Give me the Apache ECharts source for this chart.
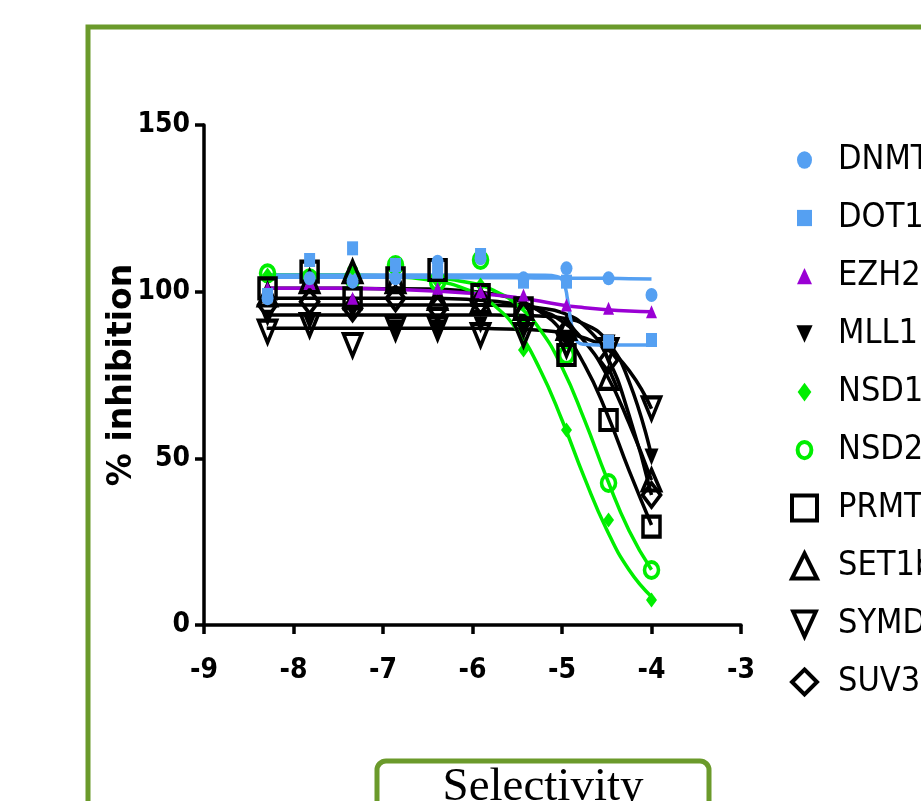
<!DOCTYPE html>
<html>
<head>
<meta charset="utf-8">
<script src="https://cdn.jsdelivr.net/npm/echarts@6/dist/echarts.min.js"></script>
<style>
html,body{margin:0;padding:0;background:#fff;}
#c{width:921px;height:801px;}
</style>
</head>
<body>
<div id="c"></div>
<script>
// ---- data ----
var logConc = [-8.29, -7.82, -7.34, -6.86, -6.39, -5.91, -5.43, -4.95, -4.48, -4.0];
var names = ['DNMT1', 'DOT1L', 'EZH2', 'MLL1', 'NSD1', 'NSD2', 'PRMT8', 'SET1b', 'SYMD2', 'SUV39H1'];
var xTicks = [-9, -8, -7, -6, -5, -4, -3];
var yTicks = [0, 50, 100, 150];

var ptDNMT1 = [98, 104, 103, 104, 109, 110, 104, 107, 104, 99];
var ptDOT1L = [99, 109.5, 113, 108, 106, 111, 103, 103, 85, 85.5];
var ptEZH2  = [101, 103, 98, 108.5, 101, 100, 99, 96, 95, 94];
var ptMLL1  = [92, 91, 94, 89, 89, 90, 88, 86, 84.6, 50.4];
var ptNSD1  = [105, 104, 107, 106, 103, 102, 82.5, 58.5, 31.5, 7.5];
var ptNSD2  = [105.5, 104, 104, 108, 103, 109.5, 93, 81, 42.6, 16.5];
var ptPRMT8 = [101, 106, 98, 104, 106.5, 99, 95, 81, 61.5, 29.5];
var ptSET1b = [99, 103, 106, 103, 98, 97, 95, 89, 74, 43.5];
var ptSYMD2 = [88, 90, 84, 89, 89, 87, 87, 84, 82.5, 65];
var ptSUV39 = [96, 97, 95, 98, 95, 97, 93, 88, 79.5, 39];

// fitted curves at these x positions
var curveX    = [-8.3, -7.5, -7, -6.5, -6, -5.75, -5.5, -5.25, -5, -4.75, -4.5, -4.25, -4];
var cvDNMT1   = [104.3, 104.3, 104.3, 104.3, 104.2, 104.2, 104.2, 104.1, 104.1, 104, 104, 103.9, 103.8];
var cvEZH2    = [101, 101, 100.8, 100.3, 99.5, 99, 98.2, 97.2, 96, 95.2, 94.6, 94.2, 94];
var cvNSD1    = [105, 104.9, 104.6, 103.6, 100, 95.7, 88.4, 76.9, 61.5, 44.2, 28.6, 16.5, 8.5];
var cvNSD2    = [105, 105, 104.8, 104.3, 102.5, 100.2, 96, 88.8, 77.3, 61.6, 44.1, 28.3, 16.6];
var cvPRMT8   = [101, 101, 100.9, 100.8, 100.1, 99.2, 97.5, 94.1, 88.1, 78.1, 63.6, 46.3, 30];
var cvSET1b   = [98, 98, 98, 98, 97.6, 97.1, 96.2, 94.5, 91.1, 85.1, 75, 60.5, 43.5];
var cvMLL1    = [93, 93, 93, 93, 93, 93, 92.9, 92.7, 92.1, 90.3, 85.3, 73, 50.7];
var cvSYMD2   = [89, 89, 89, 89, 89, 88.9, 88.7, 88.4, 87.7, 86.1, 82.8, 76.3, 64.9];
var cvSUV39   = [96, 96, 96, 96, 96, 95.9, 95.7, 95.1, 93.7, 89.8, 80.7, 62.9, 39];
var dotCurveX = [-8.3, -7, -6, -5.2, -5.05, -4.98, -4.94, -4.9, -4.86, -4.82, -4.76, -4.6, -4];
var cvDOT1L   = [105, 105, 105, 104.9, 104.5, 102.5, 98, 91, 86.5, 84.8, 84.2, 84, 84];

// ---- build ----
var BLUE = '#55a0f2', PURPLE = '#9a00d4', GREEN = '#00ee00', BLACK = '#000000';
var NOFILL = 'rgba(255,255,255,0)';
var tickFont = "'DejaVu Sans Condensed', 'Liberation Sans', Arial, sans-serif";
var downTri = 'path://M0,0 L10,0 L5,11 Z';
// legend icons for the small markers (padded so they draw smaller)
var padIcon = {
  DNMT1: 'path://M0,0 M20,20 M16,10 A6,7 0 1 1 4,10 A6,7 0 1 1 16,10 Z',
  DOT1L: 'path://M0,0 M20,20 M4,3.5 L16,3.5 L16,16.5 L4,16.5 Z',
  EZH2:  'path://M0,0 M20,20 M10,3.5 L16,16.5 L4,16.5 Z',
  MLL1:  'path://M0,0 M20,20 M3.5,3 L16.5,3 L10,17 Z',
  NSD1:  'path://M0,0 M20,20 M10,2.5 L15.5,10 L10,17.5 L4.5,10 Z',
  NSD2:  'path://M0,0 M20,20 M15.5,10 A5.5,6.5 0 1 1 4.5,10 A5.5,6.5 0 1 1 15.5,10 Z'
};
var hollowColor = { NSD2: GREEN, PRMT8: BLACK, SET1b: BLACK, SYMD2: BLACK, SUV39H1: BLACK };

function pairs(xs, ys) { return xs.map(function (x, i) { return [x, ys[i]]; }); }
function curve(name, xs, ys, color) {
  return { name: name + ' fit', type: 'line', data: pairs(xs, ys), smooth: 0.5,
    showSymbol: false, symbol: 'none', silent: true,
    lineStyle: { color: color, width: 3.5 }, z: 2 };
}
function pts(name, ys, symbol, size, color, hollow) {
  return { name: name, type: 'scatter', data: pairs(logConc, ys), symbol: symbol, symbolSize: size,
    itemStyle: hollow ? { color: NOFILL, borderColor: color, borderWidth: 3.8, opacity: 1 }
                      : { color: color, opacity: 1 }, z: 3 };
}

var series = [
  curve('PRMT8', curveX, cvPRMT8, BLACK),
  curve('SET1b', curveX, cvSET1b, BLACK),
  curve('SUV39H1', curveX, cvSUV39, BLACK),
  curve('MLL1', curveX, cvMLL1, BLACK),
  curve('SYMD2', curveX, cvSYMD2, BLACK),
  curve('NSD1', curveX, cvNSD1, GREEN),
  curve('NSD2', curveX, cvNSD2, GREEN),
  curve('EZH2', curveX, cvEZH2, PURPLE),
  curve('DOT1L', dotCurveX, cvDOT1L, BLUE),
  curve('DNMT1', curveX, cvDNMT1, BLUE),
  pts('NSD1', ptNSD1, 'diamond', [11, 15], GREEN, false),
  pts('NSD2', ptNSD2, 'circle', [14, 16], GREEN, true),
  pts('MLL1', ptMLL1, downTri, [14, 17], BLACK, false),
  pts('PRMT8', ptPRMT8, 'rect', [17, 20], BLACK, true),
  pts('SET1b', ptSET1b, 'triangle', [18, 21], BLACK, true),
  pts('SYMD2', ptSYMD2, downTri, [18, 22], BLACK, true),
  pts('SUV39H1', ptSUV39, 'diamond', [18, 24], BLACK, true),
  pts('EZH2', ptEZH2, 'triangle', [11, 13], PURPLE, false),
  pts('DOT1L', ptDOT1L, 'rect', [11, 14], BLUE, false),
  pts('DNMT1', ptDNMT1, 'circle', [12, 14], BLUE, false)
];

var legendData = names.map(function (n) {
  var d = { name: n };
  if (padIcon[n]) d.icon = padIcon[n];
  if (hollowColor[n]) d.itemStyle = { borderWidth: 4, borderColor: hollowColor[n], color: NOFILL };
  return d;
});

var chart = echarts.init(document.getElementById('c'), null, { renderer: 'canvas' });
chart.setOption({
  animation: false,
  backgroundColor: '#ffffff',
  grid: { left: 204, right: 180, top: 125, bottom: 176, containLabel: false },
  xAxis: {
    type: 'value', min: xTicks[0], max: xTicks[xTicks.length - 1], interval: 1,
    axisLine: { onZero: false, lineStyle: { color: '#000', width: 3.5 } },
    axisTick: { show: true, length: 9, lineStyle: { color: '#000', width: 3.5 } },
    axisLabel: { color: '#000', fontFamily: tickFont, fontWeight: 'bold', fontSize: 28, margin: 32 },
    splitLine: { show: false }
  },
  yAxis: {
    type: 'value', min: yTicks[0], max: yTicks[yTicks.length - 1], interval: 50,
    name: '% inhibition', nameLocation: 'middle', nameGap: 65, nameRotate: 90, nameMoveOverlap: false,
    nameTextStyle: { color: '#000', fontFamily: "'DejaVu Sans', sans-serif", fontWeight: 'bold', fontSize: 33 },
    axisLine: { onZero: false, lineStyle: { color: '#000', width: 3.5 } },
    axisTick: { show: true, length: 9, lineStyle: { color: '#000', width: 3.5 } },
    axisLabel: { color: '#000', fontFamily: tickFont, fontWeight: 'bold', fontSize: 28, margin: 14 },
    splitLine: { show: false }
  },
  legend: {
    orient: 'vertical', left: 785, top: 137,
    data: legendData, itemWidth: 25, itemHeight: 25, itemGap: 22,
    textStyle: { color: '#000', fontFamily: tickFont, fontSize: 34, lineHeight: 36, padding: [0, 0, 0, 16] }
  },
  graphic: [
    { type: 'rect', shape: { x: 88, y: 27, width: 1200, height: 1200 },
      style: { fill: 'none', stroke: '#6b9a2b', lineWidth: 5 }, z: -1, silent: true },
    { type: 'rect', shape: { x: 377, y: 761, width: 332, height: 120, r: 9 },
      style: { fill: '#fff', stroke: '#6b9a2b', lineWidth: 5 }, silent: true },
    { type: 'text', x: 543, y: 811,
      style: { text: 'Selectivity', fill: '#000', font: "47px 'Liberation Serif', 'Times New Roman', serif",
               textAlign: 'center', textVerticalAlign: 'bottom' }, silent: true }
  ],
  series: series
});
</script>
</body>
</html>
